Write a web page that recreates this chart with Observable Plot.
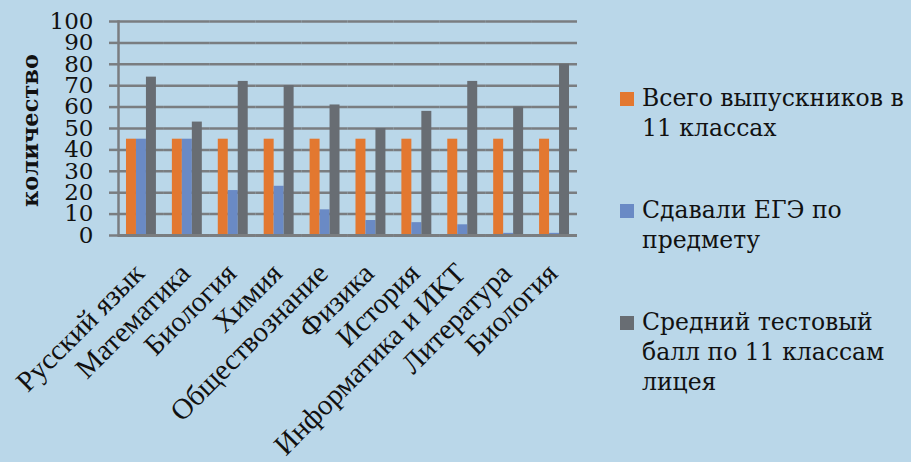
<!DOCTYPE html>
<html>
<head>
<meta charset="utf-8">
<script src="https://cdn.jsdelivr.net/npm/d3@7"></script>
<script src="https://cdn.jsdelivr.net/npm/@observablehq/plot@0.6"></script>
<style>
  html, body { margin: 0; padding: 0; }
  body { width: 911px; height: 462px; overflow: hidden; background: #bad7e9; }
  #wrap { position: relative; width: 911px; height: 462px; font-family: "DejaVu Serif", serif; }
  #chart { position: absolute; left: 0; top: 0; }
  #legend { position: absolute; left: 620px; top: 83px; width: 291px; }
  .item { display: flex; align-items: flex-start; font-size: 23.5px; line-height: 30px; color: #111; }
  .sw { width: 14px; height: 14px; flex: none; margin-top: 9px; margin-right: 8px; }
  .lbl { width: 272px; white-space: normal; }
</style>
</head>
<body>
<div id="wrap">
  <div id="chart"></div>
  <div id="legend"></div>
</div>
<script>
const categories = ["Русский язык", "Математика", "Биология", "Химия", "Обществознание", "Физика", "История", "Информатика и ИКТ", "Литература", "Биология"];
const series = ["Всего выпускников в 11 классах", "Сдавали ЕГЭ по предмету", "Средний тестовый балл по 11 классам лицея"];
const graduates = [45, 45, 45, 45, 45, 45, 45, 45, 45, 45];
const tookExam = [45, 45, 21, 23, 12, 7, 6, 5, 1, 1];
const avgScore = [74, 53, 72, 70, 61, 50, 58, 72, 60, 80];
const yTicks = [0, 10, 20, 30, 40, 50, 60, 70, 80, 90, 100];
const colors = ["#e37830", "#6a8ac5", "#686d73"];
const yTitle = "количество";

const seriesValues = [graduates, tookExam, avgScore];
const data = categories.flatMap((c, i) => seriesValues.map((arr, j) => ({ i, s: series[j], v: arr[i] })));
const gridColor = "#7a7d80";

const chart = Plot.plot({
  width: 911,
  height: 462,
  marginLeft: 118,
  marginRight: 334,
  marginTop: 21,
  marginBottom: 227,
  style: { background: "transparent", fontFamily: "DejaVu Serif", color: "#111", overflow: "visible" },
  fx: { domain: d3.range(categories.length), paddingInner: 0, paddingOuter: 0, round: false, label: null, axis: null },
  x: { domain: series, paddingInner: 0, paddingOuter: 0.8, round: false, axis: null },
  y: { domain: [0, 100], axis: null },
  color: { domain: series, range: colors },
  marks: [
    Plot.gridY(yTicks, { stroke: gridColor, strokeOpacity: 1, strokeWidth: 2.5 }),
    Plot.barY(data, { fx: "i", x: "s", y: "v", fill: "s" }),
    Plot.ruleY([0], { stroke: gridColor, strokeWidth: 3 }),
    Plot.frame({ anchor: "left", facetAnchor: "left", stroke: gridColor, strokeWidth: 2.5 }),
    Plot.axisY(yTicks, { tickSize: 9, tickPadding: 16, fontSize: 23, stroke: gridColor, strokeWidth: 2.5, fill: "#111", label: null }),
    Plot.text([yTitle], { text: d => d, frameAnchor: "left", textAnchor: "middle", rotate: -90, dx: -88, dy: 2, facetAnchor: "left", fontWeight: "bold", fontSize: 22.5, fill: "#111" }),
    Plot.axisFx({ anchor: "bottom", tickRotate: -45, tickSize: 0, tickPadding: 33, fontSize: 29, fontFamily: "Liberation Serif", fill: "#111", label: null, dx: -2, tickFormat: i => categories[i] })
  ]
});
document.getElementById("chart").appendChild(chart);

const legend = document.getElementById("legend");
series.forEach((s, j) => {
  const item = document.createElement("div");
  item.className = "item";
  item.style.marginBottom = j < series.length - 1 ? "52px" : "0";
  const sw = document.createElement("div");
  sw.className = "sw";
  sw.style.background = colors[j];
  const lbl = document.createElement("div");
  lbl.className = "lbl";
  lbl.textContent = s;
  item.appendChild(sw);
  item.appendChild(lbl);
  legend.appendChild(item);
});
</script>
</body>
</html>
